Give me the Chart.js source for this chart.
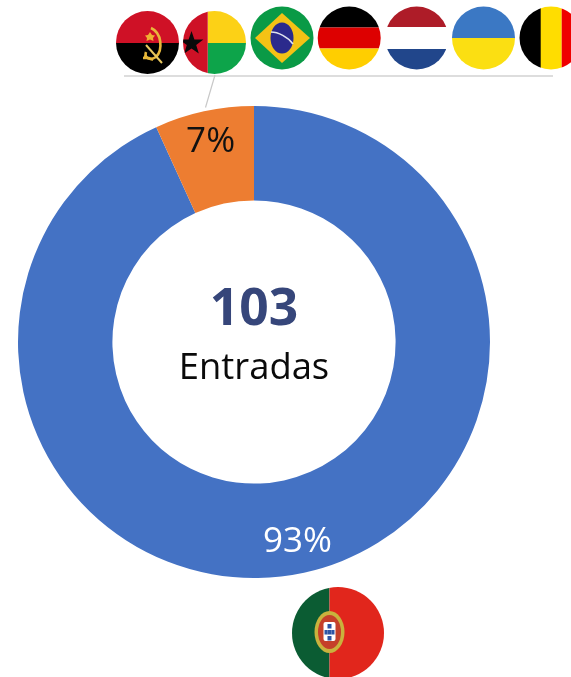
<!DOCTYPE html>
<html>
<head>
<meta charset="utf-8">
<style>
html,body{margin:0;padding:0;background:#fff;overflow:hidden}
#wrap{position:relative;width:571px;height:677px}
canvas{position:absolute;left:0;top:0}
svg{position:absolute;left:0;top:0}
</style>
<script src="https://cdn.jsdelivr.net/npm/chart.js@4"></script>
</head>
<body>
<div id="wrap">
<canvas id="c" width="571" height="677"></canvas>
<svg width="571" height="677" viewBox="0 0 571 677" xmlns="http://www.w3.org/2000/svg">
<defs>
<clipPath id="cAO"><circle cx="147.5" cy="42.5" r="31.5"/></clipPath>
<clipPath id="cGW"><circle cx="214.5" cy="42.5" r="31.5"/></clipPath>
<clipPath id="cBR"><circle cx="282" cy="38" r="31.5"/></clipPath>
<clipPath id="cDE"><circle cx="349.2" cy="38" r="31.5"/></clipPath>
<clipPath id="cNL"><circle cx="416.7" cy="38" r="31.5"/></clipPath>
<clipPath id="cUA"><circle cx="483.5" cy="38" r="31.5"/></clipPath>
<clipPath id="cBE"><circle cx="551" cy="38" r="31.5"/></clipPath>
<clipPath id="cPT"><circle cx="338" cy="633" r="46"/></clipPath>
<filter id="soft" x="-5%" y="-5%" width="110%" height="110%"><feGaussianBlur stdDeviation="0.45"/></filter>
</defs>
<line x1="124" y1="76" x2="553" y2="76" stroke="#d2d2d2" stroke-width="1.5"/>
<line x1="215" y1="75" x2="205.5" y2="107.5" stroke="#c8c8c8" stroke-width="1.2"/>
<g clip-path="url(#cAO)">
<rect x="116" y="11" width="63" height="32" fill="#cf1126"/>
<rect x="116" y="43" width="63" height="32" fill="#000"/>
<g filter="url(#soft)">
<path d="M151 28 C162 33 163 50 156 57 C150 61 144 58 146 52" fill="none" stroke="#e8b83a" stroke-width="2.6"/>
<path d="M146 45 L162 63" stroke="#e8c860" stroke-width="2"/>
<path d="M144 56 L153 60 L149 58 L143 58" fill="none" stroke="#e8b83a" stroke-width="2.4"/>
<polygon points="150,32 152,35 155,35.5 153,38 153.5,41 150,39.5 146.5,41 147,38 145,35.5 148,35" fill="#f0b030"/>
</g>
</g>
<g clip-path="url(#cGW)">
<rect x="207.7" y="11" width="40" height="32" fill="#fcd116"/>
<rect x="207.7" y="43" width="40" height="32" fill="#0da44a"/>
<rect x="182" y="11" width="25.7" height="64" fill="#ce1126"/>
<polygon points="191.5,31 194.4,39.5 203.4,39.6 196.2,45 198.8,53.6 191.5,48.5 184.2,53.6 186.8,45 179.6,39.6 188.6,39.5" fill="#0a0a0a"/>
</g>
<g clip-path="url(#cBR)">
<rect x="250" y="6" width="64" height="64" fill="#0a9a46"/>
<polygon points="282,13 310,38 282,63 255,38" fill="#f4c215"/>
<ellipse cx="282" cy="38" rx="11.5" ry="15.5" fill="#2b2a8c"/>
<path d="M271 32 C278 32 288 37 293 44" fill="none" stroke="#dfe3ee" stroke-width="1.6"/>
</g>
<g clip-path="url(#cDE)">
<rect x="317" y="6" width="65" height="21.5" fill="#000"/>
<rect x="317" y="27.5" width="65" height="21" fill="#dd0000"/>
<rect x="317" y="48.5" width="65" height="22" fill="#ffce00"/>
</g>
<g clip-path="url(#cNL)">
<rect x="385" y="6" width="64" height="21" fill="#ae1c28"/>
<rect x="385" y="27" width="64" height="22" fill="#fff"/>
<rect x="385" y="49" width="64" height="22" fill="#21468b"/>
</g>
<g clip-path="url(#cUA)">
<rect x="451" y="6" width="65" height="32" fill="#3b78c4"/>
<rect x="451" y="38" width="65" height="33" fill="#fbdf12"/>
</g>
<g clip-path="url(#cBE)">
<rect x="519" y="6" width="22" height="64" fill="#000"/>
<rect x="540.7" y="6" width="21" height="64" fill="#ffdd00"/>
<rect x="561.7" y="6" width="22" height="64" fill="#ef0000"/>
</g>
<g clip-path="url(#cPT)">
<rect x="292" y="587" width="37.5" height="92" fill="#0b5c33"/>
<rect x="329.5" y="587" width="56" height="92" fill="#e1261c"/>
<g filter="url(#soft)">
<ellipse cx="329.5" cy="632" rx="15" ry="21" fill="#c9b23c"/>
<ellipse cx="329.5" cy="632" rx="11.5" ry="17" fill="#c5402a"/>
<rect x="323.5" y="622" width="12" height="19" rx="2" fill="#fff"/>
<rect x="327.5" y="624" width="4" height="4.5" fill="#2f55a4"/>
<rect x="327.5" y="630" width="4" height="4.5" fill="#2f55a4"/>
<rect x="324.5" y="630" width="3" height="4.5" fill="#2f55a4"/>
<rect x="331.5" y="630" width="3" height="4.5" fill="#2f55a4"/>
<rect x="327.5" y="636" width="4" height="4.5" fill="#2f55a4"/>
</g>
</g>
</svg>
</div>
<script>
const categories = ["Portugal", "Outros"];
const entries = [96, 7];
const sliceColors = ["#4472C4", "#ED7D31"];
const labelColors = ["#ffffff", "#111111"];
const centerTitle = "103";
const centerSubtitle = "Entradas";

const total = entries.reduce((a, b) => a + b, 0);

const textPlugin = {
  id: "texts",
  afterDatasetsDraw(chart) {
    const ctx = chart.ctx;
    const arcs = chart.getDatasetMeta(0).data;
    ctx.save();
    ctx.textAlign = "center";
    ctx.textBaseline = "middle";
    ctx.font = '35px "Open Sans"';
    arcs.forEach((arc, i) => {
      const mid = (arc.startAngle + arc.endAngle) / 2;
      const r = arc.innerRadius + 0.67 * (arc.outerRadius - arc.innerRadius);
      ctx.fillStyle = labelColors[i];
      ctx.fillText(Math.round(entries[i] / total * 100) + "%",
        arc.x + Math.cos(mid) * r, arc.y + Math.sin(mid) * r);
    });
    const cx = arcs[0].x, cy = arcs[0].y;
    ctx.fillStyle = "#36467A";
    ctx.font = 'bold 51.5px "Open Sans"';
    ctx.fillText(centerTitle, cx, cy - 32);
    ctx.fillStyle = "#0a0a0a";
    ctx.font = '36.4px "Open Sans"';
    ctx.fillText(centerSubtitle, cx, cy + 27);
    ctx.restore();
  }
};

new Chart(document.getElementById("c"), {
  type: "doughnut",
  data: {
    labels: categories,
    datasets: [{ data: entries, backgroundColor: sliceColors, borderWidth: 0 }]
  },
  options: {
    responsive: false,
    animation: false,
    cutout: "60%",
    layout: { padding: { left: 18, right: 81, top: 106, bottom: 99 } },
    plugins: { legend: { display: false }, tooltip: { enabled: false } }
  },
  plugins: [textPlugin]
});
</script>
</body>
</html>
